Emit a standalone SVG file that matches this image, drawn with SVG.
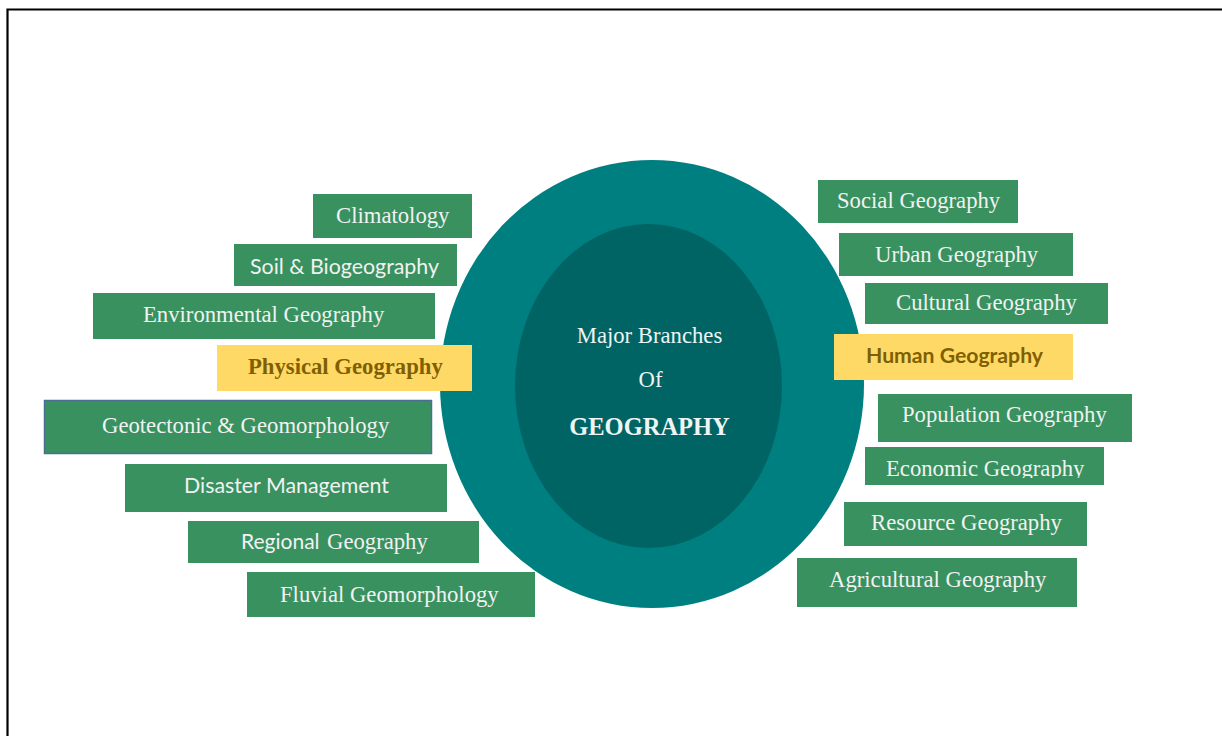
<svg xmlns="http://www.w3.org/2000/svg" width="1222" height="736" viewBox="0 0 1222 736">
<style>
.box{fill:#38915F}
.hl{fill:#FFD966}
.t{font-family:"Liberation Serif","Times New Roman",serif;font-size:22.7px;fill:#F2F2F2}
.s{font-family:Lato,"Liberation Sans",sans-serif;font-size:21px;fill:#F2F2F2}
.hb{font-weight:bold;fill:#7F6000}
.c{font-family:"Liberation Serif","Times New Roman",serif;fill:#EEF5F5;text-anchor:middle}
</style>
<defs>
<clipPath id="clipEco"><rect x="865" y="447" width="239" height="31"/></clipPath>
</defs>
<rect width="1222" height="736" fill="#FFFFFF"/>
<path d="M7.5 736 V9.5 H1222" fill="none" stroke="#000" stroke-width="2.2"/>
<g id="hub">
<ellipse cx="652" cy="384" rx="212" ry="224" fill="#007F80"/>
<ellipse cx="648.5" cy="386" rx="133.5" ry="162" fill="#016464"/>
<text class="c" x="649.5" y="343" font-size="22.7">Major Branches</text>
<text class="c" x="650.5" y="387" font-size="22.7">Of</text>
<text class="c" x="649.5" y="435" font-size="24.5" font-weight="bold">GEOGRAPHY</text>
</g>
<g id="connectors"/>
<g id="climatology"><rect class="box" x="313" y="194" width="159" height="44"/><text class="t" x="336" y="223">Climatology</text></g>
<g id="soil"><rect class="box" x="234" y="244" width="223" height="42"/><text class="s" x="250" y="274" textLength="189" lengthAdjust="spacingAndGlyphs">Soil &amp; Biogeography</text></g>
<g id="environmental"><rect class="box" x="93" y="293" width="342" height="46"/><text class="t" x="143" y="322">Environmental Geography</text></g>
<g id="physical"><rect class="hl" x="217" y="345" width="255" height="46"/><text class="t hb" x="248" y="374">Physical Geography</text></g>
<g id="geotectonic"><rect class="box" x="44.5" y="400.5" width="387" height="53" stroke="#4A6E96" stroke-width="1.5"/><text class="t" x="102" y="433">Geotectonic &amp; Geomorphology</text></g>
<g id="disaster"><rect class="box" x="125" y="464" width="322" height="48"/><text class="s" x="184" y="493" textLength="205" lengthAdjust="spacingAndGlyphs">Disaster Management</text></g>
<g id="regional"><rect class="box" x="188" y="521" width="291" height="42"/><text class="t" x="241" y="549"><tspan font-family="Lato,'Liberation Sans',sans-serif" font-size="21">Regional</tspan><tspan x="327">Geography</tspan></text></g>
<g id="fluvial"><rect class="box" x="247" y="572" width="288" height="45"/><text class="t" x="280" y="602">Fluvial Geomorphology</text></g>
<g id="social"><rect class="box" x="818" y="180" width="200" height="43"/><text class="t" x="837" y="208">Social Geography</text></g>
<g id="urban"><rect class="box" x="839" y="233" width="234" height="43"/><text class="t" x="875" y="262">Urban Geography</text></g>
<g id="cultural"><rect class="box" x="865" y="283" width="243" height="41"/><text class="t" x="896" y="310">Cultural Geography</text></g>
<g id="human"><rect class="hl" x="834" y="334" width="239" height="46"/><text class="s hb" x="866" y="363" textLength="177" lengthAdjust="spacingAndGlyphs">Human Geography</text></g>
<g id="population"><rect class="box" x="878" y="394" width="254" height="48"/><text class="t" x="902" y="422">Population Geography</text></g>
<g id="economic"><rect class="box" x="865" y="447" width="239" height="38"/><text class="t" x="886" y="476" clip-path="url(#clipEco)">Economic Geography</text></g>
<g id="resource"><rect class="box" x="844" y="502" width="243" height="44"/><text class="t" x="871" y="530">Resource Geography</text></g>
<g id="agricultural"><rect class="box" x="797" y="558" width="280" height="49"/><text class="t" x="829" y="587">Agricultural Geography</text></g>
</svg>
